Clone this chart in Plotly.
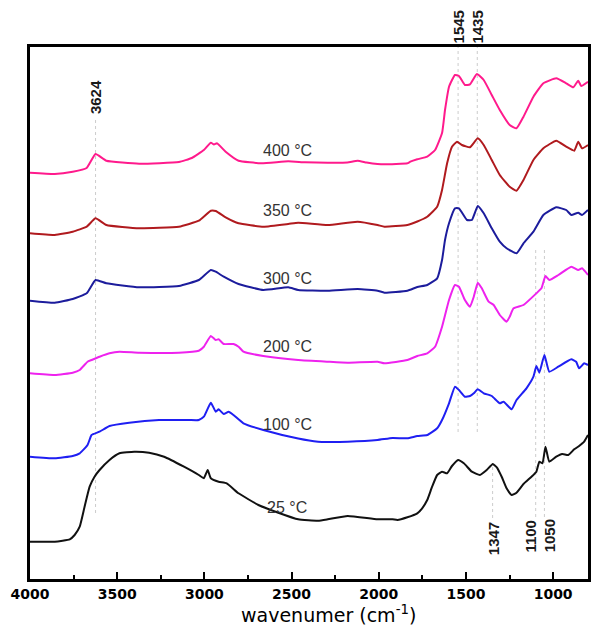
import plotly.graph_objects as go

# ---- data (wavenumber in cm-1, intensity in arbitrary offset units) ----
wn_400 = [4000, 3858, 3755, 3675, 3624, 3562, 3374, 3146, 3072, 3003, 2963, 2945, 2928, 2878, 2804, 2673,
          2519, 2423, 2292, 2180, 2121, 2070, 2007, 1967, 1836, 1819, 1779, 1722, 1677, 1637, 1620, 1597,
          1563, 1540, 1506, 1477, 1437, 1398, 1352, 1306, 1249, 1210, 1170, 1113, 1056, 982, 925, 885, 856, 839, 800]
int_400 = [406.3, 405, 407.3, 411, 425, 418.3, 415.3, 417, 421, 429, 436.3, 434.5, 435.7, 427.3, 418.3, 415.7,
           417.7, 416.7, 416.3, 416.5, 418.3, 416.5, 415, 414.7, 415.7, 417.3, 419.7, 422.3, 429, 446, 469, 492.3,
           504, 503, 494, 494.7, 505, 499, 484, 469, 454, 450.7, 462.3, 482.3, 495.7, 500.7, 495.7, 491.7, 498.3, 493, 497.3]

wn_350 = [4000, 3858, 3755, 3675, 3624, 3562, 3374, 3146, 3032, 2963, 2935, 2878, 2804, 2662, 2519, 2462,
          2292, 2121, 2007, 1967, 1836, 1779, 1722, 1665, 1637, 1608, 1580, 1551, 1523, 1477, 1432, 1398,
          1352, 1306, 1249, 1210, 1170, 1113, 1056, 982, 925, 879, 856, 834, 800]
int_350 = [345.7, 344, 347.3, 352.3, 360.7, 354, 350.7, 352.3, 358.3, 368.3, 368, 361.7, 355.7, 352.3, 355, 356.3,
           354, 357.3, 354, 352.3, 354, 357.5, 362.3, 372.3, 389, 415.7, 432.3, 437.3, 434, 431.7, 440.7, 434,
           419, 404, 392.3, 388.3, 399, 419, 430.7, 438.3, 432.3, 428.3, 437.3, 430.7, 434]

wn_300 = [4000, 3858, 3755, 3675, 3624, 3562, 3374, 3146, 3032, 2963, 2935, 2889, 2804, 2662, 2519, 2462,
          2292, 2121, 2007, 1967, 1836, 1779, 1722, 1665, 1637, 1620, 1597, 1563, 1540, 1494, 1466, 1432,
          1398, 1352, 1306, 1267, 1210, 1170, 1113, 1056, 982, 925, 896, 856, 834, 800]
int_300 = [278.3, 276.3, 280, 285.7, 299, 295.7, 291.7, 293, 299, 309, 307.3, 302.3, 295, 289, 291.7, 289,
           288.3, 290, 288.3, 286.3, 288.3, 292, 294, 300.7, 319, 339, 355.7, 370.7, 370.7, 359, 359, 373,
           365.7, 350.7, 337.3, 330.7, 325.7, 335.7, 347.3, 364, 371.7, 369, 364, 366.3, 364, 369]

wn_200 = [4000, 3858, 3755, 3715, 3670, 3647, 3601, 3544, 3487, 3374, 3146, 3032, 3003, 2963, 2935, 2918,
          2889, 2833, 2804, 2776, 2662, 2462, 2292, 2178, 2007, 1967, 1836, 1779, 1722, 1677, 1637, 1597,
          1563, 1540, 1506, 1477, 1455, 1432, 1409, 1370, 1341, 1306, 1267, 1249, 1227, 1170, 1096, 1067,
          1044, 1022, 970, 896, 856, 834, 800]
int_200 = [205.7, 204, 206.3, 209, 217.3, 219, 222.3, 225.7, 227.3, 226.3, 226.3, 228.3, 232.3, 243, 239, 239.7,
           235, 235, 232.3, 227.3, 223, 219, 217.3, 216.3, 217.3, 215.7, 219, 223, 225.7, 232.3, 252.3, 279,
           294, 292.3, 279, 272.3, 282.3, 296.3, 290.7, 277.3, 274, 264, 257.3, 262.3, 270.7, 274, 285.7, 290.7,
           303, 299, 304, 312.3, 309, 310.7, 304]

wn_100 = [4000, 3858, 3755, 3715, 3670, 3647, 3601, 3544, 3431, 3260, 3089, 3032, 3003, 2963, 2935, 2918,
          2889, 2861, 2833, 2776, 2662, 2462, 2348, 2292, 2178, 2007, 1921, 1836, 1779, 1722, 1665, 1637,
          1597, 1563, 1540, 1506, 1477, 1455, 1432, 1398, 1352, 1306, 1284, 1238, 1210, 1153, 1113, 1096,
          1079, 1050, 1022, 970, 896, 868, 851, 822, 800]
int_100 = [122.3, 120.7, 123, 125.7, 134, 144, 147.3, 153, 156.3, 159, 159, 159, 162.3, 176.3, 167.3, 169.7,
           165, 167.3, 164, 155.7, 149, 140.5, 137.3, 137, 137.3, 139, 141, 140.7, 143, 144, 150.7, 159,
           175.7, 192.3, 189, 182.3, 183, 185.7, 189.7, 185.7, 183, 175.7, 177.3, 169.7, 179, 190.7, 202.3, 213,
           206.3, 224, 207.3, 212.3, 219.7, 217.3, 210.7, 215.7, 214]

wn_25 = [4000, 3858, 3772, 3744, 3715, 3687, 3658, 3630, 3601, 3544, 3487, 3402, 3317, 3231, 3117, 3032,
         3003, 2981, 2963, 2918, 2872, 2804, 2690, 2576, 2462, 2348, 2292, 2178, 2007, 1921, 1893, 1836,
         1779, 1751, 1722, 1694, 1665, 1637, 1608, 1580, 1545, 1512, 1466, 1420, 1381, 1346, 1323, 1295,
         1267, 1238, 1210, 1170, 1124, 1096, 1079, 1061, 1044, 1022, 982, 948, 913, 879, 851, 822, 800]
int_25 = [37.3, 37.3, 39.7, 44, 52.3, 72.3, 92.3, 102.3, 109, 119, 125.7, 127.3, 126.3, 122.3, 112.3, 104,
          100.7, 109, 100.7, 97.3, 95.7, 85.7, 74, 66.3, 59.7, 58.3, 59.7, 63, 59.7, 59.7, 59, 61.7,
          65.7, 70.7, 79, 92.3, 104, 107.3, 105.7, 113, 119, 115.7, 107.3, 104, 109, 115, 111.7, 102.3,
          90.7, 84, 86.3, 95, 102.3, 107.3, 117.3, 115.7, 132.3, 117.3, 122.3, 125, 124, 129.7, 133, 137.3, 144]

series = [
    ("400 °C", wn_400, int_400, "#FF1A8C", 429),
    ("350 °C", wn_350, int_350, "#B01A1E", 369),
    ("300 °C", wn_300, int_300, "#1C1C9C", 301),
    ("200 °C", wn_200, int_200, "#EE22EE", 233),
    ("100 °C", wn_100, int_100, "#1F1FF2", 155),
    ("25 °C", wn_25, int_25, "#111111", 72),
]

peak_labels = ["3624", "1545", "1435", "1347", "1100", "1050"]
peak_pos = [3624, 1545, 1435, 1347, 1100, 1050]
peak_label_y = [0.905, 1.037, 1.037, 0.076, 0.081, 0.081]
peak_shift = [0, 0, 0, 1, -5, 5]
peak_line_y = [(66, 462), (147, 532), (147, 532), (61, 112), (62, 329), (62, 329)]

tick_vals = [4000, 3500, 3000, 2500, 2000, 1500, 1000]
x_title = "wavenumer (cm<sup>-1</sup>)"

fig = go.Figure()
for name, x, y, c, ly in series:
    fig.add_trace(go.Scatter(x=x, y=y, mode="lines", name=name,
                             line=dict(color=c, width=2, shape="spline", smoothing=0.4),
                             showlegend=False))

annotations = []
for name, x, y, c, ly in series:
    annotations.append(dict(x=2525, y=ly, xref="x", yref="y", text=name, showarrow=False,
                            font=dict(family="Liberation Sans, Arial", size=16, color="#333333")))

shapes = []
for lab, p, py, sh, (y0, y1) in zip(peak_labels, peak_pos, peak_label_y, peak_shift, peak_line_y):
    annotations.append(dict(x=p, y=py, xref="x", yref="paper", text="<b>%s</b>" % lab, textangle=-90,
                            showarrow=False, xshift=sh, xanchor="center", yanchor="middle",
                            font=dict(family="Liberation Sans, Arial", size=15, color="#1a1a1a")))
    shapes.append(dict(type="line", xref="x", yref="y", x0=p, x1=p, y0=y0, y1=y1,
                       line=dict(color="#cccccc", width=1, dash="dot"), layer="below"))

# axis title placed as annotation to match the reference position
annotations.append(dict(x=0.535, y=-0.066, xref="paper", yref="paper", text=x_title, showarrow=False,
                        xanchor="center", yanchor="middle",
                        font=dict(family="DejaVu Sans", size=19, color="black")))

fig.update_layout(
    width=592, height=630,
    margin=dict(l=30, r=1, t=47, b=51),
    paper_bgcolor="white", plot_bgcolor="white",
    annotations=annotations, shapes=shapes,
    xaxis=dict(range=[4000, 800], showgrid=False, zeroline=False,
               showline=True, linecolor="black", linewidth=2.5, mirror=True,
               tickmode="array", tickvals=tick_vals, ticktext=["<b>%d</b>" % v for v in tick_vals],
               ticks="inside", ticklen=7, tickwidth=2, tickcolor="black",
               minor=dict(dtick=250, tick0=0, ticks="inside", ticklen=4, tickwidth=2, tickcolor="black"),
               tickfont=dict(family="DejaVu Sans", size=14, color="black")),
    yaxis=dict(range=[0, 532], showgrid=False, zeroline=False, showticklabels=False,
               showline=True, linecolor="black", linewidth=2.5, mirror=True, ticks=""),
)

fig.write_html("out.html")
